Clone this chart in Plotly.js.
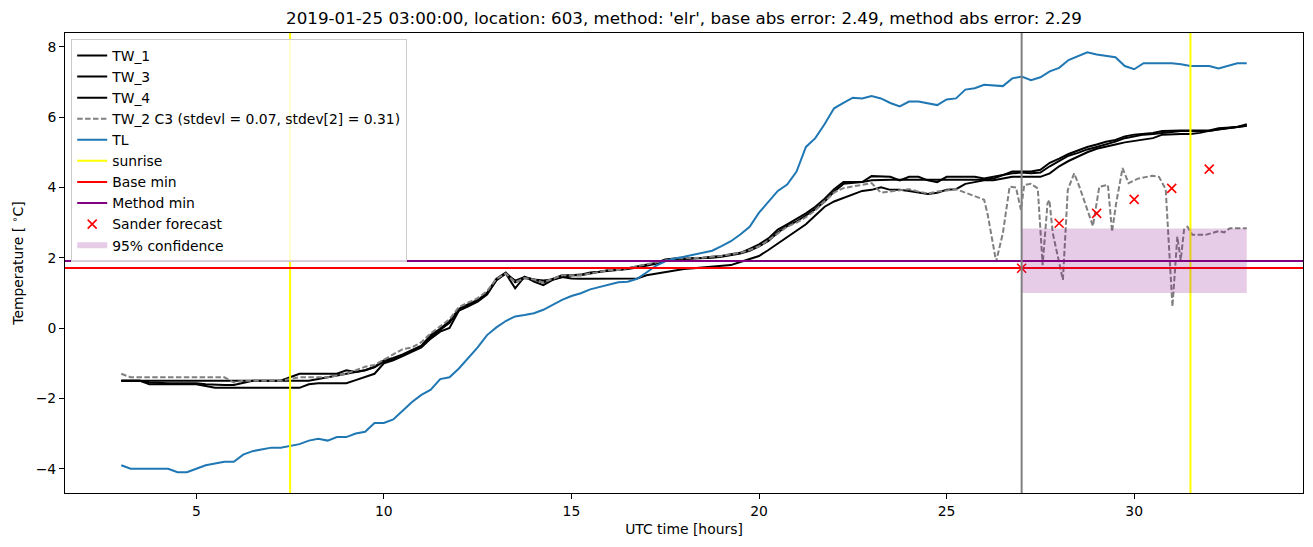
<!DOCTYPE html>
<html>
<head>
<meta charset="utf-8">
<script src="https://cdn.plot.ly/plotly-3.0.1.min.js"></script>
<style>html,body{margin:0;padding:0;background:#fff;}#chart{width:1313px;height:547px;}</style>
</head>
<body>
<div id="chart"></div>
<script>
// ---------------- data ----------------
const startHour = 3, stepHour = 0.25, nPoints = 121;   // 3:00 .. 33:00, 15-minute grid
const hours = [];
for (let i = 0; i < nPoints; i++) hours.push(startHour + i * stepHour);

const TW_1 = [
 -1.5,-1.5,-1.5,-1.5,  -1.5,-1.5,-1.5,-1.5,  -1.5,-1.5,-1.5,-1.5,  -1.5,-1.5,-1.5,-1.5,
 -1.5,-1.5,-1.4,-1.3,  -1.3,-1.3,-1.3,-1.3,  -1.2,-1.25,-1.2,-1.1,  -0.92,-0.85,-0.75,-0.62,
 -0.5,-0.2,-0.02,0.2,  0.55,0.68,0.8,1.0,  1.4,1.58,1.3,1.42,  1.38,1.3,1.4,1.5,
 1.5,1.5,1.55,1.6,  1.65,1.65,1.7,1.75,  1.8,1.85,1.95,1.98,  1.98,1.98,2.0,2.03,
 2.05,2.1,2.14,2.25,  2.38,2.55,2.8,2.95,  3.1,3.26,3.45,3.68,  3.95,4.15,4.15,4.15,
 4.32,4.32,4.3,4.2,  4.3,4.3,4.2,4.15,  4.3,4.3,4.3,4.3,  4.25,4.3,4.35,4.45,
 4.45,4.45,4.5,4.7,  4.82,4.95,5.05,5.15,  5.22,5.3,5.35,5.45,  5.5,5.52,5.55,5.6,
 5.62,5.62,5.62,5.62,  5.62,5.68,5.7,5.72,  5.8
];
const TW_3 = [
 -1.5,-1.5,-1.5,-1.55,  -1.57,-1.57,-1.57,-1.57,  -1.57,-1.6,-1.62,-1.62,  -1.62,-1.55,-1.5,-1.5,
 -1.5,-1.5,-1.5,-1.5,  -1.5,-1.45,-1.4,-1.35,  -1.3,-1.25,-1.2,-1.12,  -0.95,-0.88,-0.78,-0.65,
 -0.52,-0.25,-0.05,0.15,  0.5,0.65,0.78,0.98,  1.36,1.55,1.35,1.45,  1.38,1.35,1.38,1.45,
 1.5,1.52,1.58,1.6,  1.62,1.65,1.68,1.72,  1.78,1.83,1.92,1.95,  1.96,1.98,1.98,2.0,
 2.03,2.08,2.12,2.2,  2.32,2.48,2.72,2.9,  3.03,3.2,3.38,3.6,  3.88,4.1,4.12,4.15,
 4.2,4.22,4.22,4.22,  4.22,4.22,4.22,4.22,  4.22,4.22,4.22,4.22,  4.22,4.25,4.35,4.4,
 4.42,4.4,4.42,4.6,  4.75,4.9,4.98,5.08,  5.15,5.22,5.3,5.4,  5.45,5.5,5.52,5.55,
 5.58,5.6,5.6,5.6,  5.6,5.65,5.68,5.7,  5.75
];
const TW_4 = [
 -1.5,-1.5,-1.5,-1.6,  -1.6,-1.6,-1.6,-1.6,  -1.6,-1.65,-1.7,-1.7,  -1.7,-1.7,-1.7,-1.7,
 -1.7,-1.7,-1.7,-1.7,  -1.6,-1.57,-1.57,-1.57,  -1.57,-1.48,-1.4,-1.3,  -1.0,-0.92,-0.8,-0.68,
 -0.55,-0.3,-0.1,0.0,  0.5,0.62,0.75,0.95,  1.36,1.55,1.13,1.46,  1.32,1.22,1.37,1.45,
 1.41,1.4,1.4,1.4,  1.4,1.4,1.41,1.41,  1.5,1.55,1.6,1.65,  1.68,1.7,1.72,1.75,
 1.76,1.79,1.88,1.96,  2.05,2.22,2.4,2.58,  2.75,2.95,3.2,3.45,  3.6,3.7,3.8,3.9,
 3.93,4.0,3.93,3.93,  3.9,3.85,3.81,3.85,  3.93,3.95,4.1,4.15,  4.2,4.2,4.25,4.3,
 4.3,4.3,4.3,4.4,  4.6,4.75,4.88,5.0,  5.1,5.15,5.22,5.28,  5.32,5.35,5.4,5.5,
 5.52,5.52,5.52,5.55,  5.61,5.65,5.7,5.72,  5.75
];
const TL = [
 -3.9,-4.0,-4.0,-4.0,  -4.0,-4.0,-4.1,-4.1,  -4.0,-3.9,-3.85,-3.8,  -3.8,-3.6,-3.5,-3.45,
 -3.4,-3.4,-3.35,-3.3,  -3.2,-3.15,-3.2,-3.1,  -3.1,-3.0,-2.95,-2.7,  -2.7,-2.6,-2.35,-2.1,
 -1.9,-1.75,-1.45,-1.4,  -1.15,-0.85,-0.55,-0.2,  0.02,0.2,0.33,0.37,  0.42,0.52,0.66,0.8,
 0.91,0.99,1.1,1.17,  1.24,1.3,1.32,1.4,  1.58,1.77,1.9,1.98,  2.03,2.08,2.14,2.2,
 2.33,2.47,2.66,2.88,  3.28,3.6,3.9,4.08,  4.45,5.15,5.4,5.8,  6.25,6.4,6.55,6.53,
 6.6,6.53,6.4,6.3,  6.44,6.44,6.4,6.34,  6.5,6.53,6.78,6.82,  6.92,6.9,6.88,7.1,
 7.15,7.05,7.13,7.3,  7.4,7.62,7.72,7.84,  7.78,7.74,7.7,7.45,  7.36,7.53,7.53,7.55,
 7.53,7.5,7.45,7.45,  7.45,7.38,7.45,7.53,  7.53
];
// TW_2: same 15-minute grid up to 25.75 h, then irregular readings
const TW_2_head = [
 -1.3,-1.4,-1.4,-1.4,  -1.4,-1.4,-1.4,-1.4,  -1.4,-1.4,-1.4,-1.4,  -1.55,-1.5,-1.5,-1.5,
 -1.5,-1.5,-1.45,-1.4,  -1.4,-1.4,-1.4,-1.35,  -1.3,-1.2,-1.1,-1.05,  -0.9,-0.75,-0.6,-0.55,
 -0.4,-0.15,0.05,0.25,  0.6,0.72,0.85,1.05,  1.4,1.55,1.3,1.42,  1.38,1.3,1.4,1.5,
 1.5,1.5,1.55,1.6,  1.65,1.65,1.7,1.75,  1.8,1.85,1.92,1.98,  1.98,1.98,2.0,2.03,
 2.05,2.1,2.14,2.22,  2.32,2.5,2.7,2.88,  3.0,3.15,3.35,3.6,  3.85,3.98,4.02,4.08,
 4.12,3.85,3.88,3.9,  3.95,3.88,3.83,3.88,  3.92,3.95,3.85,3.76
];
const TW_2_tailHours = [26.0,26.1,26.32,26.5,26.68,26.85,26.98,27.07,27.25,27.43,27.56,27.69,27.74,27.83,
 28.1,28.23,28.4,28.54,28.9,29.07,29.3,29.41,29.52,29.69,29.85,30.1,30.48,30.66,30.84,
 31.02,31.15,31.24,31.33,31.42,31.55,31.9,32.1,32.26,32.4,32.55,33.0];
const TW_2_tail = [3.65,3.2,1.89,2.7,4.02,4.0,3.36,4.07,4.1,3.97,1.79,3.55,3.64,2.7,
 1.37,3.93,4.4,4.02,2.9,4.02,4.07,2.74,3.55,4.55,4.12,4.25,4.33,4.3,3.95,
 0.61,2.6,1.93,2.8,2.88,2.65,2.65,2.72,2.76,2.72,2.84,2.84];

const sunriseHours = [7.5, 31.5];
const forecastStart = 27;
const baseMin = 1.71;
const methodMin = 1.91;
const sanderHours = [27, 28, 29, 30, 31, 32];
const sanderForecast = [1.70, 2.98, 3.26, 3.66, 3.97, 4.52];
const confHours = [27, 33];
const confLow = 1.0, confHigh = 2.83;

const xRange = [1.5, 34.5];
const yRange = [-4.69, 8.39];
const xTicks = [5, 10, 15, 20, 25, 30];
const yTicks = [-4, -2, 0, 2, 4, 6, 8];

// ---------------- traces ----------------
const TW2x = hours.slice(0, TW_2_head.length).concat(TW_2_tailHours);
const TW2y = TW_2_head.concat(TW_2_tail);

const vx = [], vy = [];
sunriseHours.forEach(h => { vx.push(h, h, null); vy.push(yRange[0], yRange[1], null); });

const traces = [
  {x: hours, y: TW_1, name: 'TW_1', mode: 'lines', line: {color: 'black', width: 2}},
  {x: hours, y: TW_3, name: 'TW_3', mode: 'lines', line: {color: 'black', width: 2}},
  {x: hours, y: TW_4, name: 'TW_4', mode: 'lines', line: {color: 'black', width: 2}},
  {x: TW2x, y: TW2y, name: 'TW_2 C3 (stdevl = 0.07, stdev[2] = 0.31)', mode: 'lines',
   line: {color: 'grey', width: 2, dash: '5.5px,2.4px'}},
  {x: hours, y: TL, name: 'TL', mode: 'lines', line: {color: '#1f77b4', width: 2}},
  {x: vx, y: vy, name: 'sunrise', mode: 'lines', line: {color: 'yellow', width: 2}},
  {x: xRange, y: [baseMin, baseMin], name: 'Base min', mode: 'lines', line: {color: 'red', width: 2}},
  {x: xRange, y: [methodMin, methodMin], name: 'Method min', mode: 'lines', line: {color: 'purple', width: 2}},
  {x: [forecastStart, forecastStart], y: yRange, mode: 'lines', line: {color: 'grey', width: 2}, showlegend: false, hoverinfo: 'skip'},
  {x: [confHours[0], confHours[1], confHours[1], confHours[0], confHours[0]],
   y: [confLow, confLow, confHigh, confHigh, confLow], name: '95% confidence',
   mode: 'none', fill: 'toself', fillcolor: 'rgba(128,0,128,0.2)'},
  {x: sanderHours, y: sanderForecast, name: 'Sander forecast', mode: 'markers',
   marker: {symbol: 'x-thin', size: 9, color: 'red', line: {color: 'red', width: 1.6}}}
];

const font = {family: 'DejaVu Sans', size: 13.9, color: 'black'};
const layout = {
  width: 1313, height: 547,
  margin: {l: 65, r: 10, t: 33, b: 54},
  paper_bgcolor: 'white', plot_bgcolor: 'white',
  font: font,
  showlegend: true,
  title: {text: "2019-01-25 03:00:00, location: 603, method: 'elr', base abs error: 2.49, method abs error: 2.29",
          font: {family: 'DejaVu Sans', size: 16.7, color: 'black'}, x: 0.5, xref: 'paper', xanchor: 'center',
          y: 1 - 18 / 547, yref: 'container', yanchor: 'middle'},
  xaxis: {range: xRange, tickvals: xTicks, ticks: 'outside', ticklen: 5, tickwidth: 1, tickcolor: 'black',
          showline: true, mirror: true, linecolor: 'black', linewidth: 1, showgrid: false, zeroline: false,
          title: {text: 'UTC time [hours]', font: font, standoff: 6}, tickfont: font},
  yaxis: {range: yRange, tickvals: yTicks, ticks: 'outside', ticklen: 5, tickwidth: 1, tickcolor: 'black',
          showline: true, mirror: true, linecolor: 'black', linewidth: 1, showgrid: false, zeroline: false,
          title: {text: 'Temperature [ <sup>∘</sup>C]', font: font, standoff: 8}, tickfont: font},
  legend: {x: 0.005, y: 0.987, xanchor: 'left', yanchor: 'top', bgcolor: 'rgba(255,255,255,0.8)',
           bordercolor: '#cccccc', borderwidth: 1, font: font, tracegroupgap: 0,
           traceorder: 'normal'}
};

// legend order as in reference
const order = [0,1,2,3,4,5,6,7,10,9,8];
Plotly.newPlot('chart', order.map(i => traces[i]), layout, {staticPlot: true, displayModeBar: false});
</script>
</body>
</html>
